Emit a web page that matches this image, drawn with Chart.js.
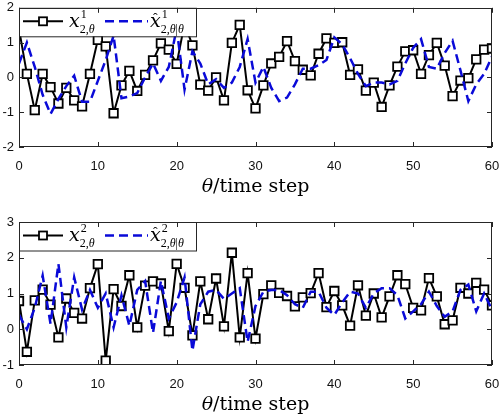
<!DOCTYPE html>
<html>
<head>
<meta charset="utf-8">
<script src="https://cdn.jsdelivr.net/npm/chart.js@4.4.1/dist/chart.umd.min.js"></script>
<style>
  body { margin: 0; background: #fff; }
  canvas { display: block; }
</style>
</head>
<body>
<canvas id="chartTop" width="500" height="207"></canvas>
<canvas id="chartBottom" width="500" height="207"></canvas>
<script>
// time steps (theta)
var steps = [0,1,2,3,4,5,6,7,8,9,10,11,12,13,14,15,16,17,18,19,20,21,22,23,24,25,26,27,28,29,30,
             31,32,33,34,35,36,37,38,39,40,41,42,43,44,45,46,47,48,49,50,51,52,53,54,55,56,57,58,59,60];

// x^1_{2,theta} and its estimate
var x1 = [1.39,0.1,-0.94,0.1,-0.28,-0.75,-0.3,-0.66,-0.83,0.1,
          1.08,0.89,-1.03,-0.23,0.19,-0.39,0.07,0.49,0.98,0.8,
          0.39,1.55,0.92,-0.21,-0.38,0.0,-0.66,0.99,1.51,-0.37,
          -0.89,-0.23,0.4,0.59,1.04,0.47,0.22,0.06,0.68,1.12,
          0.99,1.01,0.07,0.23,-0.38,-0.15,-0.85,-0.23,0.31,0.75,
          0.78,0.1,0.64,0.99,0.34,-0.54,-0.09,-0.02,0.52,0.8,0.83];
var x1hat = [0.4,1.0,0.3,-0.5,-1.05,-0.62,-0.25,0.05,-0.7,-0.7,
             -0.1,0.5,1.2,-0.6,-0.55,-0.45,0.0,0.4,-0.1,0.3,
             1.4,-0.35,0.75,0.4,-0.2,-0.05,-0.3,-0.15,0.3,1.1,
             -0.15,0.3,-0.3,-0.68,-0.58,-0.2,0.25,0.25,0.35,0.5,
             1.15,0.95,0.55,0.1,-0.25,-0.15,-0.15,-0.2,-0.1,0.4,
             0.85,1.1,0.3,0.25,0.7,1.05,0.2,-0.68,-0.2,0.1,0.6];

// x^2_{2,theta} and its estimate
var x2 = [0.79,-0.63,0.81,1.11,0.69,-0.23,0.86,0.46,0.3,1.15,
          1.82,-0.88,1.12,0.65,1.51,0.05,1.22,1.34,1.28,-0.05,
          1.83,1.16,-0.17,1.34,0.28,1.42,0.08,2.14,-0.23,1.57,
          -0.26,0.98,1.23,1.02,0.93,0.64,0.89,1.01,1.57,0.62,
          1.07,0.67,0.1,1.23,0.38,1.0,0.33,0.92,1.51,1.26,
          0.6,0.53,1.43,0.92,0.14,0.25,1.16,1.0,1.3,1.11,0.67];
var x2hat = [0.4,0.0,0.6,1.5,0.15,1.83,0.05,1.45,0.55,1.1,
             0.6,1.0,0.05,0.95,0.1,1.1,1.35,-0.1,1.35,0.3,
             0.75,1.45,-0.6,0.7,1.05,1.1,0.85,1.0,1.15,-0.35,
             0.65,1.05,1.1,1.1,0.95,0.7,0.6,1.05,1.05,0.6,
             0.4,0.75,1.05,1.0,0.6,1.0,1.15,1.15,0.95,0.3,
             0.5,0.7,1.05,0.65,0.35,0.5,1.1,1.25,0.5,1.0,0.55];

var xTicks = [0,10,20,30,40,50,60];
var yTicksTop = [-2,-1,0,1,2];
var yTicksBottom = [-1,0,1,2,3];

var blue = '#0a0ad8';
var serif = '"Liberation Serif", "DejaVu Serif", serif';
var serifWide = '"DejaVu Serif", "Liberation Serif", serif';

function line(ctx, x0, y0, x1, y1) {
    ctx.beginPath();
    ctx.moveTo(x0, y0);
    ctx.lineTo(x1, y1);
    ctx.stroke();
}

// draws pieces of text one after the other: [text, font, dy]
function drawPieces(ctx, x, y, pieces) {
    pieces.forEach(function (p) {
        ctx.font = p[1];
        ctx.fillText(p[0], x, y + (p[2] || 0));
        x += ctx.measureText(p[0]).width;
    });
    return x;
}

// box around the axes with ticks pointing inwards
var frame = {
    id: 'frame',
    afterDraw: function (chart) {
        var ctx = chart.ctx, a = chart.chartArea;
        var sx = chart.scales.x, sy = chart.scales.y;
        ctx.save();
        ctx.strokeStyle = '#262626';
        ctx.lineWidth = 1;
        ctx.setLineDash([]);
        ctx.strokeRect(Math.round(a.left) + 0.5, Math.round(a.top) + 0.5,
                       Math.round(a.width) - 1, Math.round(a.height) - 1);
        sx.ticks.forEach(function (t) {
            var px = Math.round(sx.getPixelForValue(t.value)) + 0.5;
            line(ctx, px, a.bottom, px, a.bottom - 5);
            line(ctx, px, a.top, px, a.top + 5);
        });
        sy.ticks.forEach(function (t) {
            var py = Math.round(sy.getPixelForValue(t.value)) + 0.5;
            line(ctx, a.left, py, a.left + 5, py);
            line(ctx, a.right, py, a.right - 5, py);
        });
        ctx.restore();
    }
};

// legend box and x axis title, both with math text
var mathText = {
    id: 'mathText',
    afterDatasetsDraw: function (chart, args, opts) {
        var ctx = chart.ctx, a = chart.chartArea;
        var L = a.left, T = a.top;
        ctx.save();
        ctx.fillStyle = '#fff';
        ctx.fillRect(L, T, 177, 28.5);
        ctx.strokeStyle = '#262626';
        ctx.lineWidth = 1;
        ctx.strokeRect(L + 0.5, T + 0.5, 177, 28.5);

        var ly = T + 13.5;
        ctx.strokeStyle = '#000';
        ctx.lineWidth = 2;
        line(ctx, L + 4, ly, L + 44, ly);
        ctx.fillStyle = '#fff';
        ctx.lineWidth = 1.8;
        ctx.fillRect(L + 20, ly - 4, 8, 8);
        ctx.strokeRect(L + 20, ly - 4, 8, 8);

        ctx.strokeStyle = blue;
        ctx.lineWidth = 2.5;
        ctx.setLineDash([9, 5]);
        line(ctx, L + 86, ly, L + 129, ly);
        ctx.setLineDash([]);

        ctx.fillStyle = '#000';
        ctx.textBaseline = 'alphabetic';
        var big = 'italic 19px ' + serifWide;
        var sm = '12px ' + serif;
        var smi = 'italic 12px ' + serif;
        var bx = L + 50, by = T + 19;
        ctx.font = big;
        ctx.fillText('x', bx, by);
        var w = ctx.measureText('x').width;
        ctx.font = sm;
        ctx.fillText(opts.sup, bx + w + 1, by - 9);
        drawPieces(ctx, bx + w, by + 6, [['2,', sm], ['\u03b8', smi]]);

        bx = L + 131;
        ctx.font = big;
        ctx.fillText('x', bx, by);
        w = ctx.measureText('x').width;
        ctx.font = '14px ' + serif;
        ctx.fillText('\u02c6', bx + 3, by - 4);
        ctx.font = sm;
        ctx.fillText(opts.sup, bx + w + 1, by - 9);
        drawPieces(ctx, bx + w, by + 6, [['2,', sm], ['\u03b8', smi], ['|', sm], ['\u03b8', smi]]);

        // x axis title
        var tf = '19px ' + serifWide, tfi = 'italic 19px ' + serifWide;
        ctx.font = tfi;
        var tw = ctx.measureText('\u03b8').width;
        ctx.font = tf;
        tw += ctx.measureText('/time step').width;
        var cx = (a.left + a.right) / 2;
        drawPieces(ctx, cx - tw / 2, a.bottom + 45, [['\u03b8', tfi], ['/time step', tf]]);
        ctx.restore();
    }
};

function makeChart(id, actual, est, yTicks, sup, padTop, xHeight) {
    var pts = function (arr) {
        return arr.map(function (v, i) { return { x: steps[i], y: v }; });
    };
    return new Chart(document.getElementById(id), {
        type: 'line',
        data: {
            datasets: [{
                label: 'x',
                data: pts(actual),
                borderColor: '#000',
                borderWidth: 2,
                pointStyle: 'rect',
                pointRadius: 6,
                pointBorderWidth: 1.8,
                pointBackgroundColor: '#fff',
                pointBorderColor: '#000',
                tension: 0,
                order: 1
            }, {
                label: 'xhat',
                data: pts(est),
                borderColor: blue,
                borderWidth: 2.5,
                borderDash: [9, 5],
                pointRadius: 0,
                tension: 0,
                order: 0
            }]
        },
        options: {
            responsive: false,
            animation: false,
            events: [],
            layout: { padding: { left: 0, right: 8, top: padTop, bottom: 0 } },
            plugins: {
                legend: { display: false },
                tooltip: { enabled: false },
                mathText: { sup: sup }
            },
            scales: {
                x: {
                    type: 'linear',
                    min: xTicks[0],
                    max: xTicks[xTicks.length - 1],
                    grid: { display: false, drawTicks: false },
                    border: { display: false },
                    afterBuildTicks: function (s) { s.ticks = xTicks.map(function (v) { return { value: v }; }); },
                    afterFit: function (s) { s.height = xHeight; s.paddingLeft = 0; s.paddingRight = 0; },
                    ticks: { padding: 12, color: '#111', font: { family: '"Liberation Sans", Arial, sans-serif', size: 13 } }
                },
                y: {
                    min: yTicks[0],
                    max: yTicks[yTicks.length - 1],
                    grid: { display: false, drawTicks: false },
                    border: { display: false },
                    afterBuildTicks: function (s) { s.ticks = yTicks.map(function (v) { return { value: v }; }); },
                    afterFit: function (s) { s.width = 19; s.paddingTop = 0; s.paddingBottom = 0; },
                    ticks: { padding: 5, color: '#111', font: { family: '"Liberation Sans", Arial, sans-serif', size: 13 } }
                }
            }
        },
        plugins: [mathText, frame]
    });
}

makeChart('chartTop', x1, x1hat, yTicksTop, '1', 5, 60);
makeChart('chartBottom', x2, x2hat, yTicksBottom, '2', 15, 49);
</script>
</body>
</html>
